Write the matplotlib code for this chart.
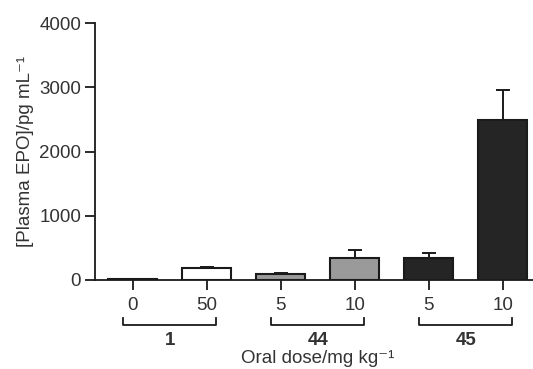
import numpy as np
import matplotlib.pyplot as plt

plt.rcParams['font.family'] = ['Liberation Sans', 'DejaVu Sans']

# data
dose_labels = ["0", "50", "5", "10", "5", "10"]
epo_mean = [10, 180, 90, 345, 350, 2490]
epo_err = [5, 30, 25, 115, 65, 470]
bar_colors = ["white", "white", "#9a9a9a", "#9a9a9a", "#252525", "#252525"]
groups = ["1", "44", "45"]
group_span = [(0, 1), (2, 3), (4, 5)]

text_col = "#333333"
fs = 13.5

fig = plt.figure(figsize=(5.33, 3.69), dpi=100)
ax = fig.add_axes([95 / 533, (369 - 280) / 369, (533 - 95) / 533, 257 / 369])

x = np.arange(len(epo_mean))
ax.bar(x, epo_mean, width=0.66, color=bar_colors, edgecolor="#1a1a1a",
       linewidth=1.5, zorder=2)
ax.errorbar(x, epo_mean, yerr=[np.zeros(len(epo_err)), epo_err], fmt="none",
            ecolor="#1a1a1a", elinewidth=1.4, capsize=5, capthick=1.4, zorder=1)

ax.set_xlim(-0.51, 5.41)
ax.set_ylim(0, 4000)
ax.set_yticks([0, 1000, 2000, 3000, 4000])
ax.set_xticks(x)
ax.set_xticklabels(dose_labels)
ax.tick_params(axis="both", direction="out", length=7, width=1.3,
               colors="#1a1a1a", labelsize=fs, labelcolor=text_col)
ax.tick_params(axis="x", pad=5)
ax.tick_params(axis="y", pad=3)
for side in ["top", "right"]:
    ax.spines[side].set_visible(False)
for side in ["left", "bottom"]:
    ax.spines[side].set_linewidth(1.3)
    ax.spines[side].set_color("#1a1a1a")

ax.set_ylabel("[Plasma EPO]/pg mL⁻¹", fontsize=fs, color=text_col, labelpad=4)

# group brackets under the dose labels
tr = ax.get_xaxis_transform()
for name, (a, b) in zip(groups, group_span):
    ax.plot([a - 0.13, a - 0.13, b + 0.13, b + 0.13], [-0.148, -0.175, -0.175, -0.148],
            color="#1a1a1a", lw=1.3, transform=tr, clip_on=False)
    ax.text((a + b) / 2, -0.235, name, transform=tr, ha="center", va="center",
            fontsize=fs, fontweight="bold", color=text_col)

ax.text(2.5, -0.305, "Oral dose/mg kg⁻¹", transform=tr, ha="center",
        va="center", fontsize=fs, color=text_col)

fig.savefig("out.png", dpi=100)
